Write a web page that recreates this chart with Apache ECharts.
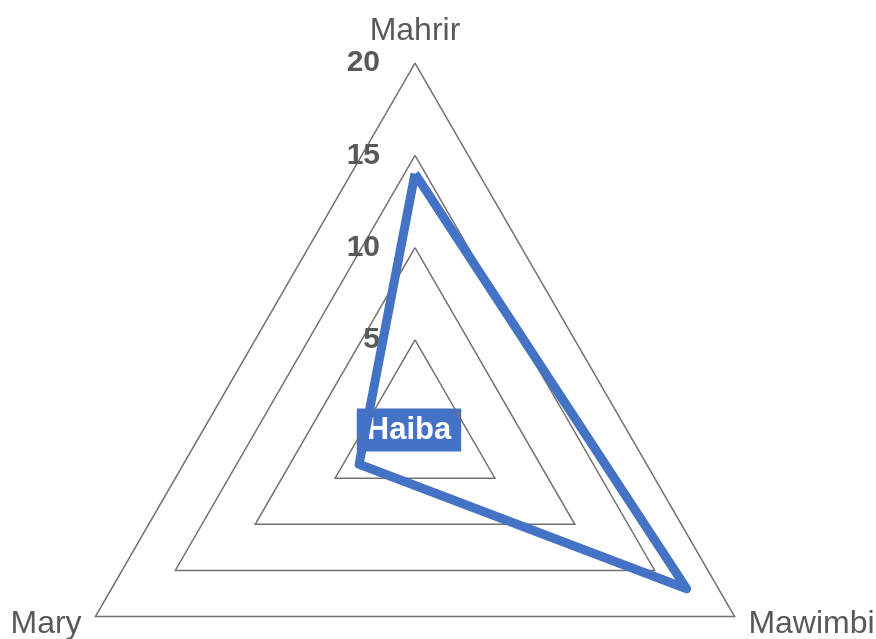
<!DOCTYPE html>
<html>
<head>
<meta charset="utf-8">
<script src="https://cdn.jsdelivr.net/npm/echarts@6/dist/echarts.min.js"></script>
<style>
  html, body { margin: 0; padding: 0; background: #fff; }
  #main { width: 876px; height: 639px; }
</style>
</head>
<body>
<div id="main"></div>
<script>
var indicators = ['Mahrir', 'Mary', 'Mawimbi'];
var haibaValues = [14, 3.5, 17];
var seriesName = 'Haiba';
var axisMax = 20;

var chart = echarts.init(document.getElementById('main'));

var indicatorList = indicators.map(function (name, i) {
  var ind = { name: name, max: axisMax, min: 0 };
  // only the top axis shows its scale
  ind.axisLabel = { show: i === 0 };
  return ind;
});

chart.setOption({
  textStyle: { fontFamily: 'Liberation Sans, Arial, sans-serif' },
  radar: {
    center: [415, 432],
    radius: 369,
    shape: 'polygon',
    splitNumber: 4,
    indicator: indicatorList,
    axisName: {
      color: '#595959',
      fontSize: 32
    },
    nameGap: 16,
    axisLine: { show: false },
    splitLine: { lineStyle: { color: '#767171', width: 1.5 } },
    splitArea: { show: false },
    axisTick: { show: false },
    axisLabel: {
      show: false,
      showMinLabel: false,
      color: '#595959',
      fontSize: 30,
      fontWeight: 'bold',
      margin: 35,
      padding: [4, 0, 0, 0]
    }
  },
  series: [{
    name: seriesName,
    type: 'radar',
    symbol: 'none',
    lineStyle: { color: '#4472C4', width: 9, join: 'round' },
    data: [{ name: seriesName, value: haibaValues }]
  }],
  graphic: [{
    type: 'text',
    x: 409,
    y: 430,
    style: {
      text: seriesName,
      fill: '#fff',
      font: 'bold 31px Liberation Sans, Arial, sans-serif',
      align: 'center',
      verticalAlign: 'middle',
      backgroundColor: '#4472C4',
      padding: [7, 10, 5, 10]
    }
  }]
});
</script>
</body>
</html>
